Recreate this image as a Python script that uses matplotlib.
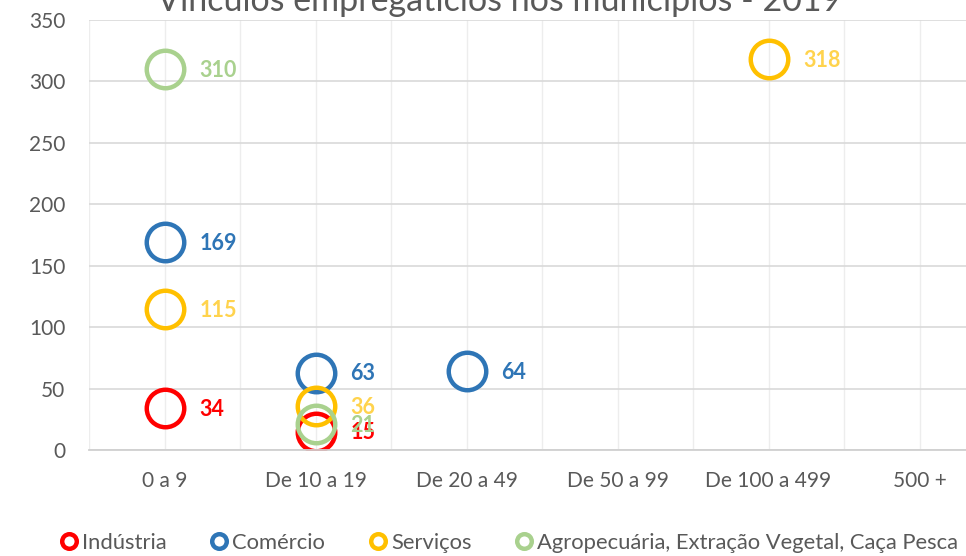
import matplotlib.pyplot as plt
from matplotlib.lines import Line2D

# categories on the x axis
faixas = ['0 a 9', 'De 10 a 19', 'De 20 a 49', 'De 50 a 99', 'De 100 a 499', '500 +']

# series values: (category index, value)
industria_x = [0, 1]
industria_y = [34, 15]
comercio_x = [0, 1, 2]
comercio_y = [169, 63, 64]
servicos_x = [0, 1, 4]
servicos_y = [115, 36, 318]
agro_x = [0, 1]
agro_y = [310, 21]

series = [
    ('Indústria', industria_x, industria_y, '#FF0000', '#FF0000'),
    ('Comércio', comercio_x, comercio_y, '#2E75B6', '#2E75B6'),
    ('Serviços', servicos_x, servicos_y, '#FFC000', '#FFD34D'),
    ('Agropecuária, Extração Vegetal, Caça Pesca', agro_x, agro_y, '#A9D18E', '#A9D18E'),
]

plt.rcParams['font.family'] = ['Lato', 'DejaVu Sans']

fig = plt.figure(figsize=(9.66, 5.56), dpi=100)
ax = fig.add_axes([89 / 966, 106 / 556, 906 / 966, 430 / 556])

for name, xs, ys, col, lblcol in series:
    ax.plot(xs, ys, linestyle='none', marker='o', markersize=27,
            markerfacecolor='none', markeredgecolor=col, markeredgewidth=3.2)
    for x, y in zip(xs, ys):
        ax.annotate(str(y), (x, y), xytext=(25, -1), textcoords='offset points',
                    ha='left', va='center', fontsize=15.5, fontweight='bold', color=lblcol)

ax.set_xlim(-0.5, 5.5)
ax.set_ylim(0, 350)
ax.set_yticks(range(0, 351, 50))
ax.set_xticks(range(len(faixas)))
ax.set_xticklabels(faixas)
ax.set_xticks([i + 0.5 for i in range(-1, 6)], minor=True)
ax.tick_params(which='both', length=0, labelsize=15, colors='#595959')
ax.tick_params(axis='x', pad=15)
ax.tick_params(axis='y', pad=17)
ax.grid(True, axis='y', color='#D9D9D9', linewidth=1.2)
ax.grid(True, axis='x', which='both', color='#EDEDED', linewidth=1)
ax.set_axisbelow(True)
for s in ['top', 'right', 'left']:
    ax.spines[s].set_visible(False)
ax.spines['bottom'].set_color('#D0D0D0')
ax.spines['bottom'].set_linewidth(1.3)

fig.text(499 / 966, 1 - 11 / 556, 'Vínculos empregatícios nos municípios - 2019',
         ha='center', va='baseline', fontsize=24.5, color='#595959')

handles = [Line2D([], [], linestyle='none', marker='o', markersize=10.5,
                  markerfacecolor='none', markeredgecolor=s[3], markeredgewidth=3.2)
           for s in series]
fig.legend(handles, [s[0] for s in series], loc='center', ncol=4,
           bbox_to_anchor=(508 / 966, 1 - 543 / 556), frameon=False,
           fontsize=15.8, labelcolor='#595959', handletextpad=0.1,
           columnspacing=1.9, handlelength=1.0)

fig.savefig('out.png', dpi=100)
